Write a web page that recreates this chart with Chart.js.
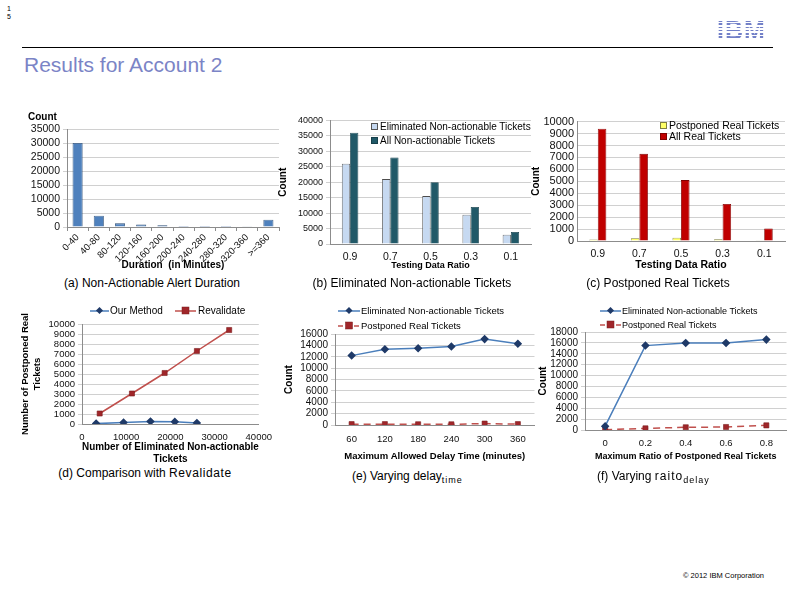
<!DOCTYPE html>
<html>
<head>
<meta charset="utf-8">
<script src="https://cdn.jsdelivr.net/npm/chart.js@4.4.0/dist/chart.umd.min.js"></script>
<style>
  body { margin: 0; width: 794px; height: 595px; background: #fff; position: relative; overflow: hidden;
         font-family: "Liberation Sans", Arial, sans-serif; color: #000; }
  .t { position: absolute; white-space: nowrap; }
  canvas { position: absolute; }
  .cap { font-size: 12px; line-height: 12px; }
  .ctr { transform: translateX(-50%); }
  .lg { position: absolute; white-space: nowrap; display: flex; align-items: center; }
  .sw { display: inline-block; width: 5px; height: 5px; margin-right: 2px; }
  .logo { font-weight: bold; font-size: 25px; letter-spacing: 1px; line-height: 26px;
          background: repeating-linear-gradient(to bottom, #7280c8 0px, #7280c8 1.6px, transparent 1.6px, transparent 3.2px);
          -webkit-background-clip: text; background-clip: text; color: transparent; }
  sub { font-size: 9px; letter-spacing: 1px; }
</style>
</head>
<body>

<!-- slide frame -->
<div class="t" style="left:7px;top:5px;font-size:7px;line-height:8px">1<br>5</div>
<div class="t logo" style="left:717px;top:17px">IBM</div>
<div style="position:absolute;left:22px;top:47px;width:751px;height:1px;background:#000"></div>
<div class="t" style="left:24px;top:53px;font-size:21px;line-height:24px;color:#7b84c6">Results for Account 2</div>
<div class="t" style="left:683px;top:572px;font-size:7.5px;line-height:8px">© 2012 IBM Corporation</div>

<canvas id="chartA" width="262" height="159" style="left:20px;top:112px"></canvas>
<canvas id="chartB" width="258" height="159" style="left:277px;top:112px"></canvas>
<canvas id="chartC" width="259" height="159" style="left:530px;top:112px"></canvas>
<canvas id="chartD" width="260" height="165" style="left:20px;top:300px"></canvas>
<canvas id="chartE" width="257" height="137" style="left:283px;top:325px"></canvas>
<canvas id="chartF" width="255" height="139" style="left:537px;top:323px"></canvas>

<!-- (a) -->
<div class="t" style="left:28px;top:111px;font-size:10px;line-height:11px;font-weight:bold">Count</div>
<div class="t cap ctr" style="left:152px;top:277px">(a) Non-Actionable Alert Duration</div>

<!-- (b) -->
<div class="lg" style="left:371px;top:121px;font-size:10px;line-height:11px">
  <span class="sw" style="background:#c6d9f1;border:1px solid #555"></span>Eliminated Non-actionable Tickets</div>
<div class="lg" style="left:371px;top:135px;font-size:10px;line-height:11px">
  <span class="sw" style="background:#215968;border:1px solid #17404b"></span>All Non-actionable Tickets</div>
<div class="t cap ctr" style="left:412px;top:277px">(b) Eliminated Non-actionable Tickets</div>

<!-- (c) -->
<div class="lg" style="left:660px;top:120px;font-size:10.5px;line-height:11px">
  <span class="sw" style="background:#ffff66;border:1px solid #7f7f3f"></span>Postponed Real Tickets</div>
<div class="lg" style="left:660px;top:131px;font-size:10.5px;line-height:11px">
  <span class="sw" style="background:#c00000;border:1px solid #7f0000"></span>All Real Tickets</div>
<div class="t cap ctr" style="left:658px;top:277px">(c) Postponed Real Tickets</div>

<!-- (d) -->
<div class="lg" style="left:90px;top:305px;font-size:10px;line-height:12px">
  <svg width="19" height="10"><line x1="0" y1="5" x2="19" y2="5" stroke="#4a7ebb" stroke-width="1.5"/><rect x="7" y="2" width="5" height="5" fill="#1f3a68" transform="rotate(45 9.5 4.5)"/></svg>
  <span style="margin-left:1px">Our Method</span></div>
<div class="lg" style="left:175px;top:305px;font-size:10px;line-height:12px">
  <svg width="21" height="10"><line x1="0" y1="5" x2="21" y2="5" stroke="#c0504d" stroke-width="1.5"/><rect x="7" y="1" width="7" height="7" fill="#a0262a" stroke="#7a1c1c" stroke-width="0.5"/></svg>
  <span style="margin-left:2px">Revalidate</span></div>
<div class="t cap ctr" style="left:145px;top:467px">(d) Comparison with <span style="letter-spacing:0.6px">Revalidate</span></div>

<!-- (e) -->
<div class="lg" style="left:338px;top:305px;font-size:9.5px;line-height:12px">
  <svg width="22" height="10"><line x1="0" y1="5" x2="22" y2="5" stroke="#4a7ebb" stroke-width="1.5"/><rect x="8.5" y="2" width="5" height="5" fill="#1f3a68" transform="rotate(45 11 4.5)"/></svg>
  <span style="margin-left:1px">Eliminated Non-actionable Tickets</span></div>
<div class="lg" style="left:338px;top:320px;font-size:9.5px;line-height:12px">
  <svg width="22" height="10"><line x1="0" y1="5" x2="22" y2="5" stroke="#c0504d" stroke-width="1.5" stroke-dasharray="5 3"/><rect x="7.5" y="1" width="7" height="7" fill="#a0262a" stroke="#7a1c1c" stroke-width="0.5"/></svg>
  <span style="margin-left:1px">Postponed Real Tickets</span></div>
<div class="t cap" style="left:352px;top:470px">(e) Varying delay<sub>time</sub></div>

<!-- (f) -->
<div class="lg" style="left:600px;top:305px;font-size:9px;line-height:12px">
  <svg width="21" height="10"><line x1="0" y1="5" x2="21" y2="5" stroke="#4a7ebb" stroke-width="1.5"/><rect x="8" y="2" width="5" height="5" fill="#1f3a68" transform="rotate(45 10.5 4.5)"/></svg>
  <span style="margin-left:1px">Eliminated Non-actionable Tickets</span></div>
<div class="lg" style="left:600px;top:319px;font-size:9px;line-height:12px">
  <svg width="21" height="10"><line x1="0" y1="5" x2="21" y2="5" stroke="#c0504d" stroke-width="1.5" stroke-dasharray="5 3"/><rect x="7" y="1" width="7" height="7" fill="#a0262a" stroke="#7a1c1c" stroke-width="0.5"/></svg>
  <span style="margin-left:1px">Postponed Real Tickets</span></div>
<div class="t cap" style="left:597px;top:470px">(f) Varying <span style="letter-spacing:1px">raito</span><sub>delay</sub></div>

<script>
// DATA
const durationLabels = ["0-40", "40-80", "80-120", "120-160", "160-200", "200-240", "240-280", "280-320", "320-360", ">=360"];
const durationCounts = [30000, 4000, 1300, 850, 600, 350, 350, 350, 280, 2600];

const ratioLabels = ["0.9", "0.7", "0.5", "0.3", "0.1"];
const eliminatedNonActionable = [26000, 21000, 15500, 9500, 3000];
const allNonActionable = [36000, 28000, 20000, 12000, 3900];
const postponedReal = [120, 230, 270, 140, 30];
const allReal = [9400, 7300, 5100, 3100, 1050];

const ourMethodX = [3200, 9400, 15500, 21000, 26000];
const ourMethodY = [40, 140, 260, 220, 110];
const revalidateX = [4000, 11300, 18700, 26000, 33300];
const revalidateY = [1050, 3050, 5100, 7300, 9400];

const delayLabels = ["60", "120", "180", "240", "300", "360"];
const delayEliminated = [12200, 13300, 13500, 13800, 15100, 14300];
const delayPostponed = [150, 150, 130, 120, 250, 150];

const maxRatioLabels = ["0", "0.2", "0.4", "0.6", "0.8"];
const ratioEliminated = [700, 15500, 16000, 16000, 16600];
const ratioPostponed = [50, 300, 500, 550, 850];

const GRID = "#c4c4c4";
const AXIS = "#8c8c8c";
const TXT = "#111";
const FONT = "'Liberation Sans', Arial, sans-serif";

Chart.defaults.font.family = FONT;
Chart.defaults.color = TXT;

const plain = v => String(v);

// AXIS HELPERS (fixed box sizes so the plot areas land where the slide has them)
function yAxis(max, step, width, size, title, titleSize) {
  return {
    min: 0, max: max,
    ticks: { stepSize: step, color: TXT, font: { size: size }, padding: 3, autoSkip: false, callback: plain },
    grid: { color: GRID, lineWidth: 0.8, tickLength: 4 },
    border: { display: true, color: AXIS },
    title: title ? { display: true, text: title, color: "#000", padding: 0,
                     font: { size: titleSize, weight: "bold" } } : { display: false },
    afterFit: s => { s.width = width; }
  };
}

function xCat(height, size, title, titleSize, ticks) {
  return {
    offset: true,
    ticks: Object.assign({ color: TXT, font: { size: size }, padding: 0, maxRotation: 0, autoSkip: false }, ticks || {}),
    grid: { display: false, drawTicks: false },
    border: { display: true, color: AXIS },
    title: { display: true, text: title, color: "#000", padding: 0, font: { size: titleSize, weight: "bold" } },
    afterFit: s => { s.height = height; }
  };
}

function base(padTop, padRight, scales) {
  return {
    responsive: false,
    animation: false,
    layout: { padding: { top: padTop, right: padRight, left: 0, bottom: 0 } },
    plugins: { legend: { display: false }, tooltip: { enabled: false } },
    scales: scales
  };
}

// (a) DURATION HISTOGRAM
const axisA = xCat(44, 9.5, "Duration  (in Minutes)", 10, { maxRotation: 45, minRotation: 45, padding: 1 });
axisA.grid = { display: true, drawOnChartArea: false, offset: true, color: AXIS, tickLength: 4 };
new Chart(document.getElementById("chartA"), {
  type: "bar",
  data: {
    labels: durationLabels,
    datasets: [{ data: durationCounts, backgroundColor: "#4f81bd", borderColor: "#2c4d75", borderWidth: 0.8,
                 categoryPercentage: 0.95, barPercentage: 0.5 }]
  },
  options: base(17, 3, {
    x: axisA,
    y: yAxis(35000, 5000, 47, 10.5)
  })
});

// (b) ELIMINATED NON-ACTIONABLE
new Chart(document.getElementById("chartB"), {
  type: "bar",
  data: {
    labels: ratioLabels,
    datasets: [
      { data: eliminatedNonActionable, backgroundColor: "#c6d9f1", borderColor: "#4d4d4d", borderWidth: 0.8,
        categoryPercentage: 0.41, barPercentage: 1 },
      { data: allNonActionable, backgroundColor: "#215968", borderColor: "#17404b", borderWidth: 0.8,
        categoryPercentage: 0.41, barPercentage: 1 }
    ]
  },
  options: base(8, 4, {
    x: xCat(27, 10.5, "Testing Data Ratio", 9, { padding: 7 }),
    y: yAxis(40000, 5000, 53, 9, "Count", 10)
  })
});

// (c) POSTPONED REAL
const axisCy = yAxis(10000, 1000, 47, 11, "Count", 10);
axisCy.grid = { color: GRID, lineWidth: 0.8, drawTicks: false };
new Chart(document.getElementById("chartC"), {
  type: "bar",
  data: {
    labels: ratioLabels,
    datasets: [
      { data: postponedReal, backgroundColor: "#ffff66", borderColor: "#7f7f3f", borderWidth: 0.8,
        categoryPercentage: 0.41, barPercentage: 1 },
      { data: allReal, backgroundColor: "#c00000", borderColor: "#7f0000", borderWidth: 0.8,
        categoryPercentage: 0.41, barPercentage: 1 }
    ]
  },
  options: base(8, 4, {
    x: xCat(30, 10.5, "Testing Data Ratio", 10.5, { padding: 7 }),
    y: axisCy
  })
});

// (d) COMPARISON WITH REVALIDATE
const blueLine = { borderColor: "#4a7ebb", borderWidth: 1.5, pointStyle: "rectRot", pointRadius: 3.2,
                   pointBackgroundColor: "#1f3a68", pointBorderColor: "#1f3a68", showLine: true };
const redLine = { borderColor: "#c0504d", borderWidth: 1.5, pointStyle: "rect", pointRadius: 3.6,
                  pointBackgroundColor: "#a0262a", pointBorderColor: "#7a1c1c", pointBorderWidth: 0.6, showLine: true };

new Chart(document.getElementById("chartD"), {
  type: "scatter",
  data: {
    datasets: [
      Object.assign({ data: ourMethodX.map((x, i) => ({ x: x, y: ourMethodY[i] })) }, blueLine),
      Object.assign({ data: revalidateX.map((x, i) => ({ x: x, y: revalidateY[i] })) }, redLine)
    ]
  },
  options: base(24, 18, {
    x: {
      type: "linear", min: 0, max: 40000,
      ticks: { stepSize: 10000, color: TXT, font: { size: 9.5 }, padding: 8, callback: plain },
      grid: { display: false, drawTicks: false },
      border: { display: true, color: AXIS },
      title: { display: true, text: ["Number of Eliminated Non-actionable", "Tickets"], color: "#000", padding: 0,
               font: { size: 10, weight: "bold" } },
      afterFit: s => { s.height = 41; }
    },
    y: yAxis(10000, 1000, 62, 9.5, ["Number of Postponed Real", "Tickets"], 9.5)
  })
});

// (e) VARYING DELAY TIME
new Chart(document.getElementById("chartE"), {
  type: "line",
  data: {
    labels: delayLabels,
    datasets: [
      Object.assign({ data: delayEliminated }, blueLine),
      Object.assign({ data: delayPostponed, borderDash: [7, 5] }, redLine)
    ]
  },
  options: base(8, 3.5, {
    x: xCat(37, 9.5, "Maximum Allowed Delay Time (minutes)", 9.5, { padding: 9 }),
    y: yAxis(16000, 2000, 52, 10, "Count", 10)
  })
});

// (f) VARYING RATIO DELAY
new Chart(document.getElementById("chartF"), {
  type: "line",
  data: {
    labels: maxRatioLabels,
    datasets: [
      Object.assign({ data: ratioEliminated }, blueLine),
      Object.assign({ data: ratioPostponed, borderDash: [7, 5] }, redLine)
    ]
  },
  options: base(8, 4, {
    x: xCat(32, 9.5, "Maximum Ratio of Postponed Real Tickets", 9, { padding: 8 }),
    y: yAxis(18000, 2000, 48, 10, "Count", 10)
  })
});
</script>
</body>
</html>
